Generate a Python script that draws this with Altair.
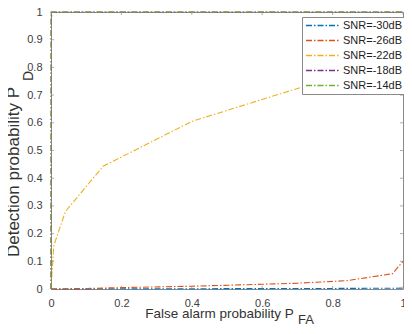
import altair as alt
import pandas as pd

series = ["SNR=-30dB", "SNR=-26dB", "SNR=-22dB", "SNR=-18dB", "SNR=-14dB"]
colors = ["#0072BD", "#D95319", "#EDB120", "#7E2F8E", "#77AC30"]

pfa_30 = [0, 0.1, 0.2, 0.4, 0.6, 0.8, 1.0]
pd_30 = [0, 0.0005, 0.001, 0.001, 0.0015, 0.002, 0.003]
pfa_26 = [0, 0.1, 0.2, 0.4, 0.6, 0.7, 0.84, 0.97, 1.0]
pd_26 = [0, 0.002, 0.005, 0.01, 0.017, 0.021, 0.03, 0.055, 0.1]
pfa_22 = [0, 0.008, 0.041, 0.148, 0.4, 0.69, 0.85, 0.98, 1.0]
pd_22 = [0, 0.157, 0.28, 0.443, 0.605, 0.72, 0.78, 0.87, 0.94]
pfa_18 = [0, 0.0005, 0.003, 1.0]
pd_18 = [0, 0.97, 1.0, 1.0]
pfa_14 = [0, 0.0002, 1.0]
pd_14 = [0, 1.0, 1.0]

x_ticks = [0, 0.2, 0.4, 0.6, 0.8, 1]
y_ticks = [0, 0.1, 0.2, 0.3, 0.4, 0.5, 0.6, 0.7, 0.8, 0.9, 1]

x_title = "False alarm probability P"
x_sub = "FA"
y_title = "Detection probability P"
y_sub = "D"

FONT = "Liberation Sans"
AX = "#8a8a8a"
DASH = [6, 2, 1.5, 2]

rows = []
for name, xs, ys in zip(series, [pfa_30, pfa_26, pfa_22, pfa_18, pfa_14],
                        [pd_30, pd_26, pd_22, pd_18, pd_14]):
    for i, (a, b) in enumerate(zip(xs, ys)):
        rows.append({"s": name, "pfa": a, "pd": b, "i": i})
df = pd.DataFrame(rows)

LEFT, TOP, RIGHT, BOTTOM = 43, 4, 1, 37
W, H = 352, 277

xscale = alt.Scale(domain=[0, 1], nice=False, zero=False)
yscale = alt.Scale(domain=[0, 1], nice=False, zero=False)

x_axis = alt.Axis(values=x_ticks, format=".1~f", ticks=False, domain=False, title=None,
                  grid=False, labelPadding=8, labelFlush=False, labelOverlap=False,
                  labelFontSize=11, labelFont=FONT, labelColor="#404040")
y_axis = alt.Axis(values=y_ticks, format=".1~f", ticks=False, domain=False, title=None,
                  grid=False, labelPadding=9, labelFlush=False, labelOverlap=False,
                  labelFontSize=11, labelFont=FONT, labelColor="#404040")

lines = alt.Chart(df).mark_line(strokeDash=DASH, strokeWidth=1.1).encode(
    x=alt.X("pfa:Q", scale=xscale, axis=x_axis, title=None),
    y=alt.Y("pd:Q", scale=yscale, axis=y_axis, title=None),
    color=alt.Color("s:N", scale=alt.Scale(domain=series, range=colors), sort=series,
                    legend=alt.Legend(orient="none", legendX=251, legendY=5, title=None,
                                      symbolType="stroke", symbolSize=1089, clipHeight=15,
                                      symbolDash=DASH, symbolStrokeWidth=1.3,
                                      labelFontSize=11, labelFont=FONT, labelColor="#222222",
                                      labelOffset=3, padding=1, symbolOffset=2, rowPadding=0,
                                      strokeColor="#8a8a8a", fillColor="white")),
    order="i:Q",
)

xt = pd.DataFrame({"pfa": x_ticks})
yt = pd.DataFrame({"pd": y_ticks})

tick_b = alt.Chart(xt).mark_tick(color=AX, size=3, thickness=1).encode(
    x=alt.X("pfa:Q", scale=xscale, axis=x_axis, title=None), y=alt.value(H - 1.5))
tick_t = alt.Chart(xt).mark_tick(color=AX, size=3, thickness=1).encode(
    x=alt.X("pfa:Q", scale=xscale, axis=x_axis, title=None), y=alt.value(1.5))
tick_l = alt.Chart(yt).mark_tick(color=AX, size=3, thickness=1).encode(
    y=alt.Y("pd:Q", scale=yscale, axis=y_axis, title=None), x=alt.value(1.5))
tick_r = alt.Chart(yt).mark_tick(color=AX, size=3, thickness=1).encode(
    y=alt.Y("pd:Q", scale=yscale, axis=y_axis, title=None), x=alt.value(W - 1.5))


def label(txt, x, y, size, angle=0):
    return alt.Chart(pd.DataFrame({"t": [txt]})).mark_text(
        font=FONT, fontSize=size, color="#333333", align="center", baseline="middle",
        angle=angle).encode(text="t:N", x=alt.value(x), y=alt.value(y))


chart = alt.layer(
    lines, tick_b, tick_t, tick_l, tick_r,
    label(x_title, 168.5, 302, 13.5),
    label(x_sub, 255, 308, 13),
    label(y_title, -37, 160, 17, 270),
    label(y_sub, -22, 64, 14, 270),
).properties(
    width=W, height=H,
    autosize=alt.AutoSizeParams(type="none"),
    padding={"left": LEFT, "top": TOP, "right": RIGHT, "bottom": BOTTOM},
).configure_view(stroke=AX, strokeWidth=1)

chart.save("out.html", embed_options={"renderer": "svg", "actions": False})
